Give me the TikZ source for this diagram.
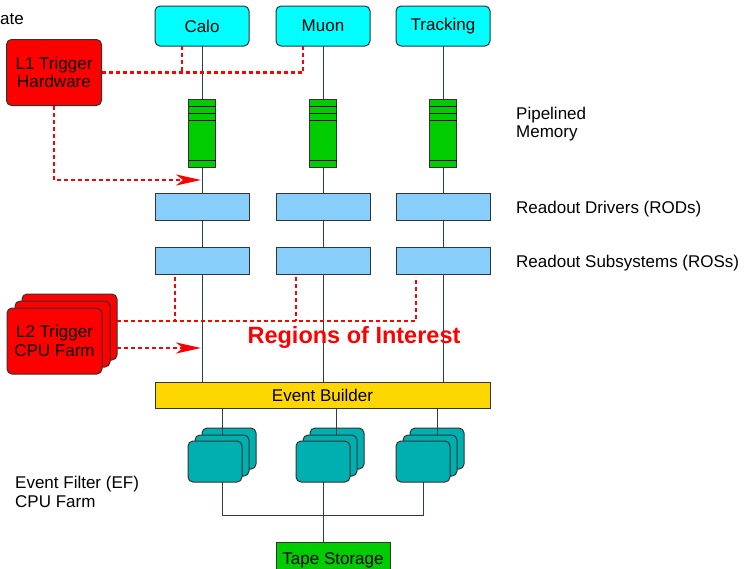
\documentclass[tikz,border=0pt]{standalone}
\usepackage{fontspec}
\setmainfont{Liberation Sans}
\usetikzlibrary{arrows.meta}
\definecolor{trigred}{RGB}{255,0,0}
\definecolor{detcyan}{RGB}{0,255,255}
\definecolor{pipegreen}{RGB}{0,204,0}
\definecolor{rodblue}{RGB}{135,206,250}
\definecolor{ebgold}{RGB}{255,215,0}
\definecolor{efteal}{RGB}{0,176,176}
\definecolor{wiregray}{RGB}{45,60,70}

\begin{document}
\begin{tikzpicture}[x=1pt,y=-1pt,
  txt/.style={font=\fontsize{17}{18.5}\selectfont, align=center},
  box/.style={txt, draw=black!80, line width=1pt, inner sep=0pt, outer sep=0pt},
  det/.style={box, fill=detcyan, rounded corners=5pt, minimum width=94pt, minimum height=40pt},
  trig/.style={box, fill=trigred, rounded corners=5pt, minimum width=95pt, minimum height=66pt},
  pipe/.style={box, fill=pipegreen, minimum width=27pt, minimum height=68pt},
  rod/.style={box, fill=rodblue, minimum width=94pt, minimum height=27pt},
  farm/.style={box, fill=efteal, rounded corners=5pt, minimum width=54pt, minimum height=41pt},
  wire/.style={draw=wiregray, line width=1pt},
  roi/.style={draw=trigred, line width=2.5pt, dash pattern=on 4pt off 3pt},
  roiarrow/.style={roi, -{Stealth[length=25pt,width=11pt,inset=7pt]}},
  label/.style={txt, anchor=west, align=left, inner sep=0pt}]
\useasboundingbox (0,0) rectangle (754,568);
\clip (0,0) rectangle (754,568);

\node[label] (ratelbl) at (0,19) {ate};

\node[box, fill=ebgold, minimum width=335pt, minimum height=26pt] (eb) at (322.5,395) {Event Builder};

\foreach \n/\x/\name in {1/202/Calo, 2/323/Muon, 3/443/Tracking} {
  \node[det] (det\n) at (\x,26) {\name};
  \node[pipe] (pipe\n) at (\x,133) {};
  \foreach \d in {7,14,21,61}
    \draw[line width=1pt] ([yshift=-\d pt]pipe\n.north west) -- ([yshift=-\d pt]pipe\n.north east);
  \node[rod] (rod\n) at (\x,207) {};
  \node[rod] (ros\n) at (\x,260.5) {};
  \draw[wire] (det\n) -- (pipe\n) -- (rod\n) -- (ros\n) -- (ros\n.south |- eb.north);
}

\node[trig] (l1) at (54,72.5) {L1 Trigger\\Hardware};
\foreach \l/\dx/\dy in {c/15/-14, b/8/-7}
  \node[trig] (l2\l) at (54.5+\dx,341+\dy) {};
\node[trig] (l2a) at (54.5,341) {L2 Trigger\\CPU Farm};

% level-1 accept
\coordinate (l1hit) at (201,180);
\draw[roi] (l1.east) -| ([xshift=-20pt]det2.south);
\draw[roi] ([xshift=-20pt]det1.south) -- ([xshift=-20pt]det1.south |- l1.east);
\draw[roiarrow] (l1.south) |- (l1hit);

% regions of interest
\draw[roi] ([yshift=6pt]l2c.east) -| ([shift={(-27pt,-3pt)}]ros3.south);
\foreach \n in {1,2}
  \draw[roi] ([shift={(-27pt,-3pt)}]ros\n.south) -- ([yshift=6pt,xshift=-27pt]ros\n.south |- l2c.east);
\coordinate (l2hit) at (201,348);
\draw[roiarrow] ([yshift=-21pt]l2c.east) -- (l2hit);
\node[txt, text=trigred, font=\bfseries\fontsize{23.5}{26}\selectfont] (roilbl) at (354,337) {Regions of Interest};

% event filter
\foreach \n/\x in {1/215, 2/323, 3/423} {
  \node[farm] (ef\n c) at (\x+14,448.5) {};
  \node[farm] (ef\n b) at (\x+7,455.5) {};
  \node[farm] (ef\n a) at (\x,461.5) {};
}
\foreach \n/\s in {1/0, 2/6, 3/7}
  \draw[wire] ([xshift=\s pt]ef\n b.north) -- ([xshift=\s pt]ef\n b.north |- eb.south);

\node[box, fill=pipegreen, minimum width=114pt, minimum height=36pt, anchor=north] (tape) at (333,542) {Tape Storage};
\coordinate (efbus) at (323,515);
\draw[wire] ([xshift=7pt]ef1a.south) |- (efbus) -| (ef3a.south);
\draw[wire] (ef2a.south) -- (ef2a.south |- tape.north);

\node[label] (pipelbl) at (516,124) {Pipelined\\Memory};
\node[label] (rodlbl) at (516,209) {Readout Drivers (RODs)};
\node[label] (roslbl) at (516,263) {Readout Subsystems (ROSs)};
\node[label] (eflbl) at (15,492) {Event Filter (EF)\\CPU Farm};
\end{tikzpicture}
\end{document}
